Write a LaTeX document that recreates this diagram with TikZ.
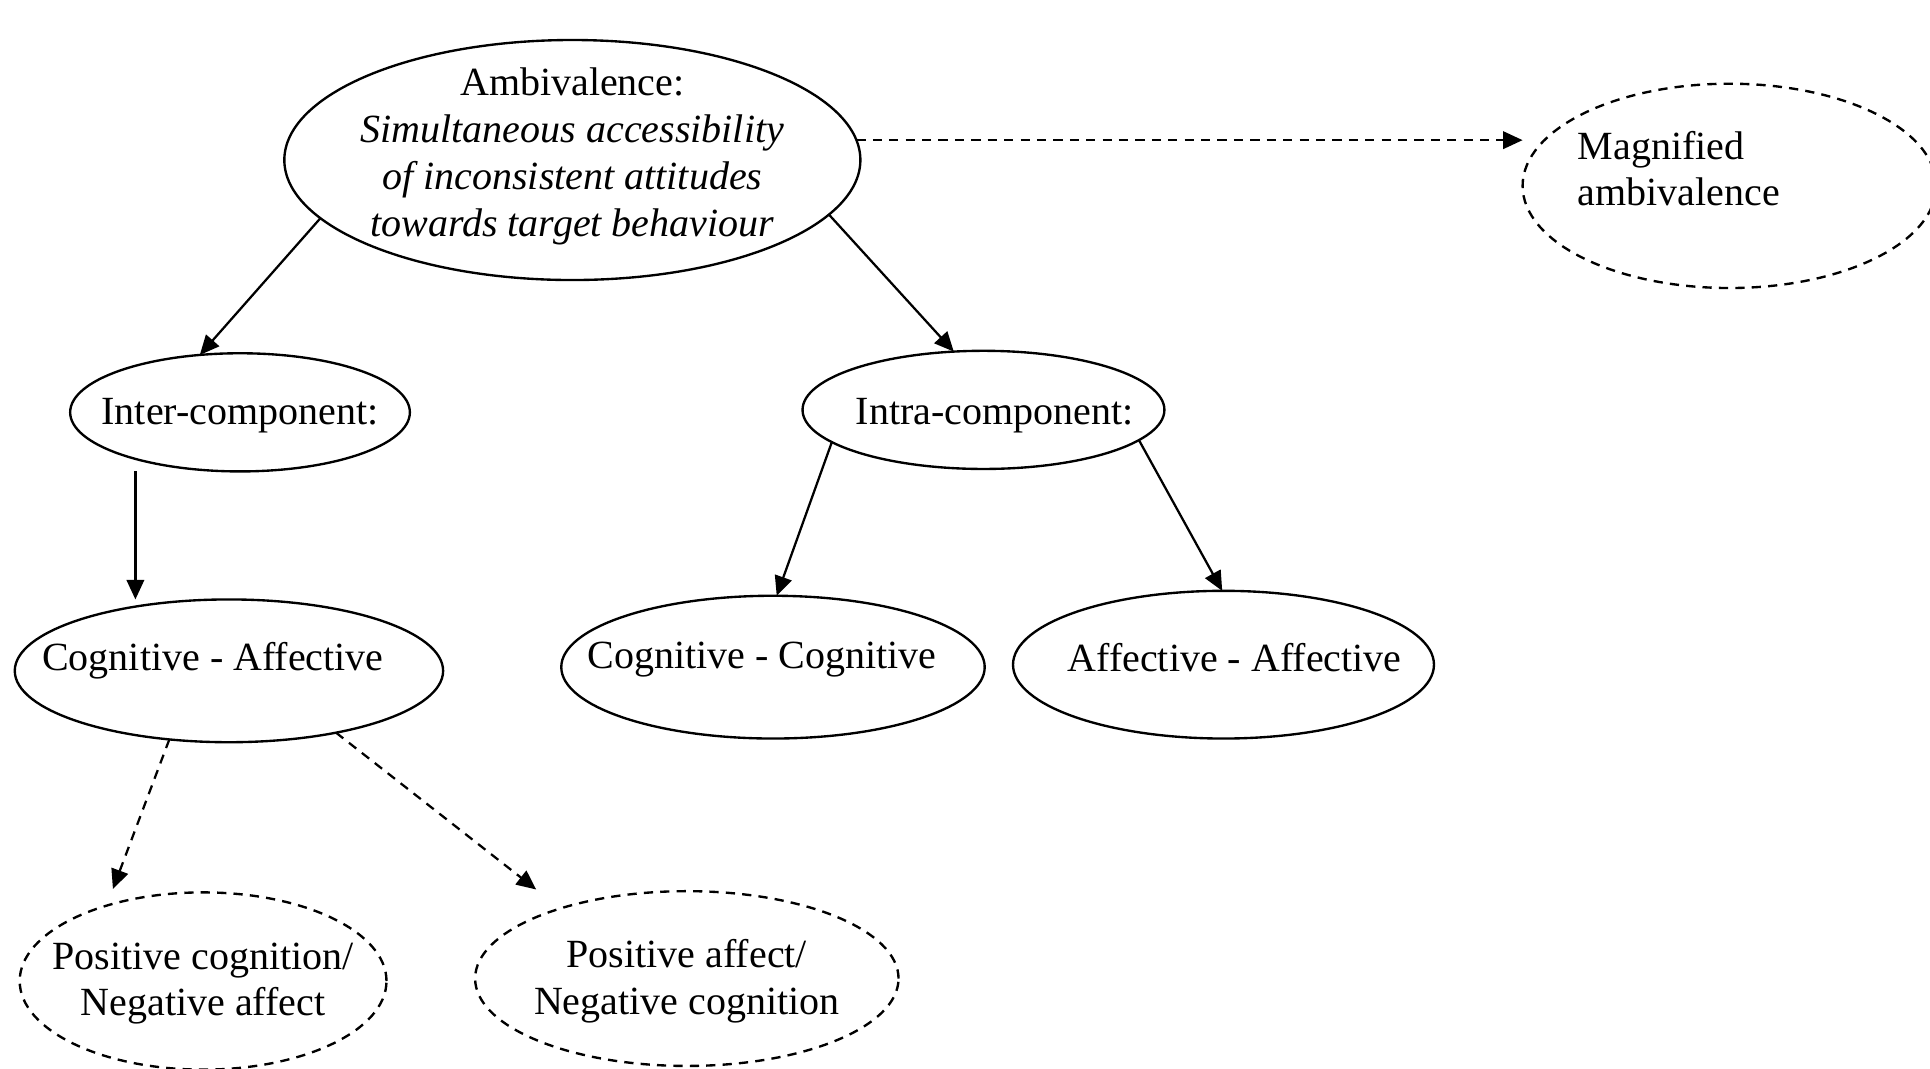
\documentclass[tikz,border=0pt]{standalone}
\usepackage{fontspec}
\setmainfont{Liberation Serif}
\usetikzlibrary{shapes.geometric,arrows.meta}

\tikzset{
  ell/.style={ellipse, draw, line width=1.15pt, inner sep=0pt, outer sep=0pt},
  dell/.style={ell, dash pattern=on 4.5pt off 3.5pt},
  lbl/.style={align=center, inner sep=0pt, font=\fontsize{19.5}{22.8}\selectfont},
  arr/.style={line width=1.1pt, -{Triangle[length=9.5pt,width=8.5pt]}},
  darr/.style={arr, dash pattern=on 4.5pt off 3.5pt},
}

\begin{document}
\begin{tikzpicture}[x=0.6pt, y=-0.6pt]
  \useasboundingbox (0,0) rectangle (1568,868);
  \clip (0,0) rectangle (1568,868);

  % ellipses
  \node[ell,  minimum width=280.8pt, minimum height=117pt]   (amb)    at (465,130) {};
  \node[dell, minimum width=201.6pt, minimum height=99.6pt]  (mag)    at (1405,151) {};
  \node[ell,  minimum width=165.6pt, minimum height=57.6pt]  (inter)  at (195,335) {};
  \node[ell,  minimum width=176.4pt, minimum height=57.6pt]  (intra)  at (799,333) {};
  \node[ell,  minimum width=208.8pt, minimum height=69.6pt]  (cogaff) at (186,545) {};
  \node[ell,  minimum width=206.4pt, minimum height=69.6pt]  (cogcog) at (628,542) {};
  \node[ell,  minimum width=205.2pt, minimum height=72pt]    (affaff) at (994,540) {};
  \node[dell, minimum width=178.8pt, minimum height=86.4pt]  (poscog) at (165,797) {};
  \node[dell, minimum width=206.4pt, minimum height=85.2pt]  (posaff) at (558,795) {};

  % labels
  \node[lbl] (ambt) at (465,127) {Ambivalence:\\ \textit{Simultaneous accessibility}\\
      \textit{of inconsistent attitudes}\\ \textit{towards target behaviour}};
  \node[lbl, align=left] (magt) at (1364,137) {Magnified\\ambivalence};
  \node[lbl] (intert)  at (195,338) {Inter-component:};
  \node[lbl] (intrat)  at (808,338) {Intra-component:};
  \node[lbl] (cogafft) at (173,537) {Cognitive - Affective};
  \node[lbl] (cogcogt) at (619,536) {Cognitive - Cognitive};
  \node[lbl] (affafft) at (1003,534) {Affective - Affective};
  \node[lbl] (poscogt) at (165,799) {Positive cognition/\\Negative affect};
  \node[lbl] (posafft) at (558,797) {Positive affect/\\Negative cognition};

  % connectors
  \coordinate (col) at (110,0);
  \draw[arr]  (amb.-167) -- (inter.125);
  \draw[arr]  (amb.-12) -- (intra.117);
  \draw[darr] (amb.4) -- (amb.4 -| mag.west);
  \draw[arr]  (inter.south -| col) -- (cogaff.north -| col);
  \draw[arr]  (intra.192) -- (cogcog.87);
  \draw[arr]  (intra.-11) -- (affaff.91);
  \draw[darr, shorten >=8.7pt] (cogaff.-131) -- (poscog.142);
  \draw[darr, shorten >=15pt]  (cogaff.-30) -- (posaff.151);
\end{tikzpicture}
\end{document}
